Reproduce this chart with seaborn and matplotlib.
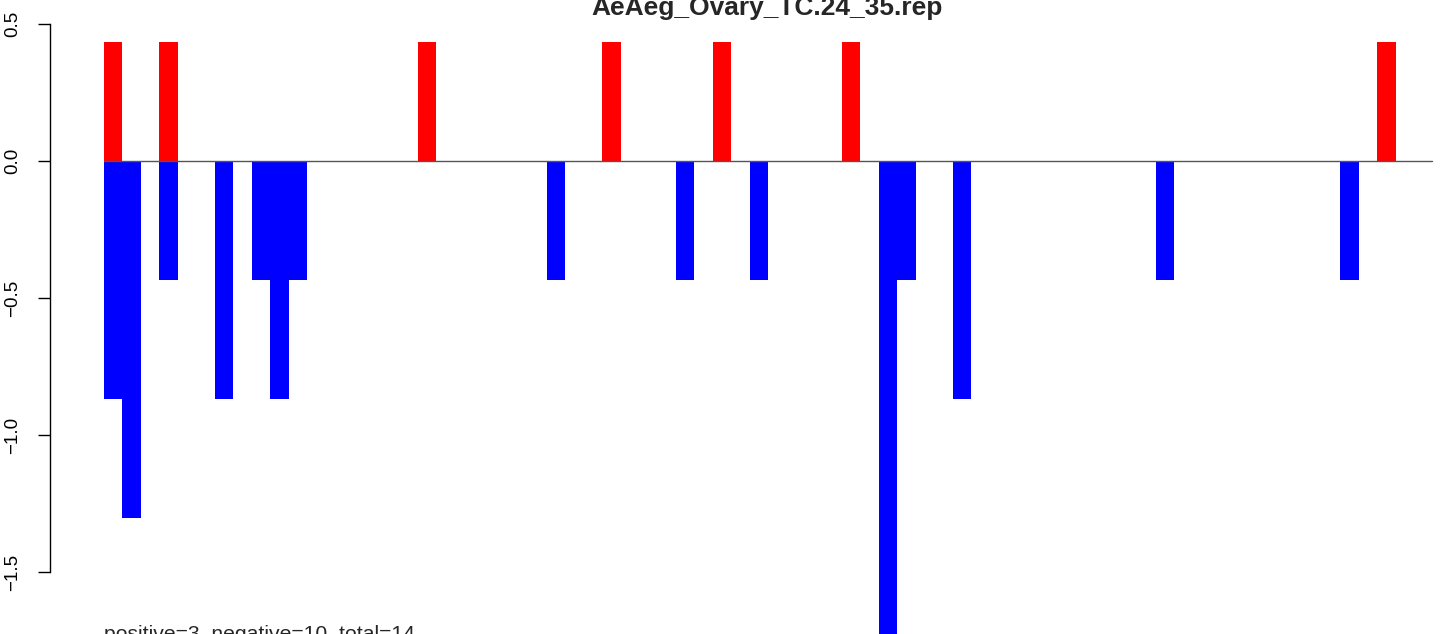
import numpy as np
import pandas as pd
import matplotlib
matplotlib.use("Agg")
import matplotlib.pyplot as plt
import seaborn as sns

# ---- data ----
n_slots = 72
pos_slots = [0, 3, 17, 27, 33, 40, 69]
pos_values = [0.434, 0.434, 0.434, 0.434, 0.434, 0.434, 0.434]
neg_slots = [0, 1, 3, 6, 8, 9, 10, 24, 31, 35, 42, 43, 46, 57, 67]
neg_values = [-0.869, -1.303, -0.434, -0.869, -0.434, -0.869, -0.434, -0.434,
              -0.434, -0.434, -1.737, -0.434, -0.869, -0.434, -0.434]
y_ticks = [-1.5, -1.0, -0.5, 0.0, 0.5]
y_tick_labels = ["\u22121.5", "\u22121.0", "\u22120.5", "0.0", "0.5"]
title = "AeAeg_Ovary_TC.24_35.rep"
note = "positive=3, negative=10, total=14"

pos_full = np.zeros(n_slots)
pos_full[pos_slots] = pos_values
neg_full = np.zeros(n_slots)
neg_full[neg_slots] = neg_values
df = pd.DataFrame({"slot": np.arange(n_slots), "pos": pos_full, "neg": neg_full})

sns.set_theme(style="white")
plt.rcParams["font.family"] = ["Liberation Sans", "DejaVu Sans"]

W, H = 1444, 634
fig = plt.figure(figsize=(W / 100, H / 100), dpi=100)
ax = fig.add_axes([0, 0, 1, 1])
ax.patch.set_alpha(0)

sns.barplot(data=df, x="slot", y="pos", order=list(range(n_slots)), color="#ff0000",
            saturation=1, width=1.0, errorbar=None, linewidth=0, ax=ax)
sns.barplot(data=df, x="slot", y="neg", order=list(range(n_slots)), color="#0000ff",
            saturation=1, width=1.0, errorbar=None, linewidth=0, ax=ax)

ax.plot([-0.5, n_slots - 0.5], [0, 0], color="#555555", lw=1.0, zorder=5)

px = 18.45  # pixels per slot
x0 = -0.5 - 104 / px
x1 = x0 + W / px
ax.set_xlim(x0, x1)
ppu = 274.0
y_top = 161 / ppu
y_bot = -(H - 161) / ppu
ax.set_ylim(y_bot, y_top)

for s in ["top", "right", "bottom"]:
    ax.spines[s].set_visible(False)
ax.spines["left"].set_position(("axes", 50 / W))
ax.spines["left"].set_bounds(-1.5, 0.5)
ax.spines["left"].set_color("black")
ax.spines["left"].set_linewidth(1.0)
ax.set_xticks([])
ax.set_xlabel("")
ax.set_ylabel("")
ax.set_yticks(y_ticks)
ax.set_yticklabels(y_tick_labels, rotation=90, va="center", fontsize=13.5)
ax.tick_params(axis="y", direction="out", length=8.6, width=1.0, color="black",
               pad=12, left=True, labelcolor="black")

fig.text(767.5 / W, 1 - 15 / H, title, ha="center", va="baseline",
         fontsize=19, fontweight="bold")
fig.text(104 / W, 1 - 640 / H, note, ha="left", va="baseline", fontsize=15.2)

fig.savefig("out.png", dpi=100)
